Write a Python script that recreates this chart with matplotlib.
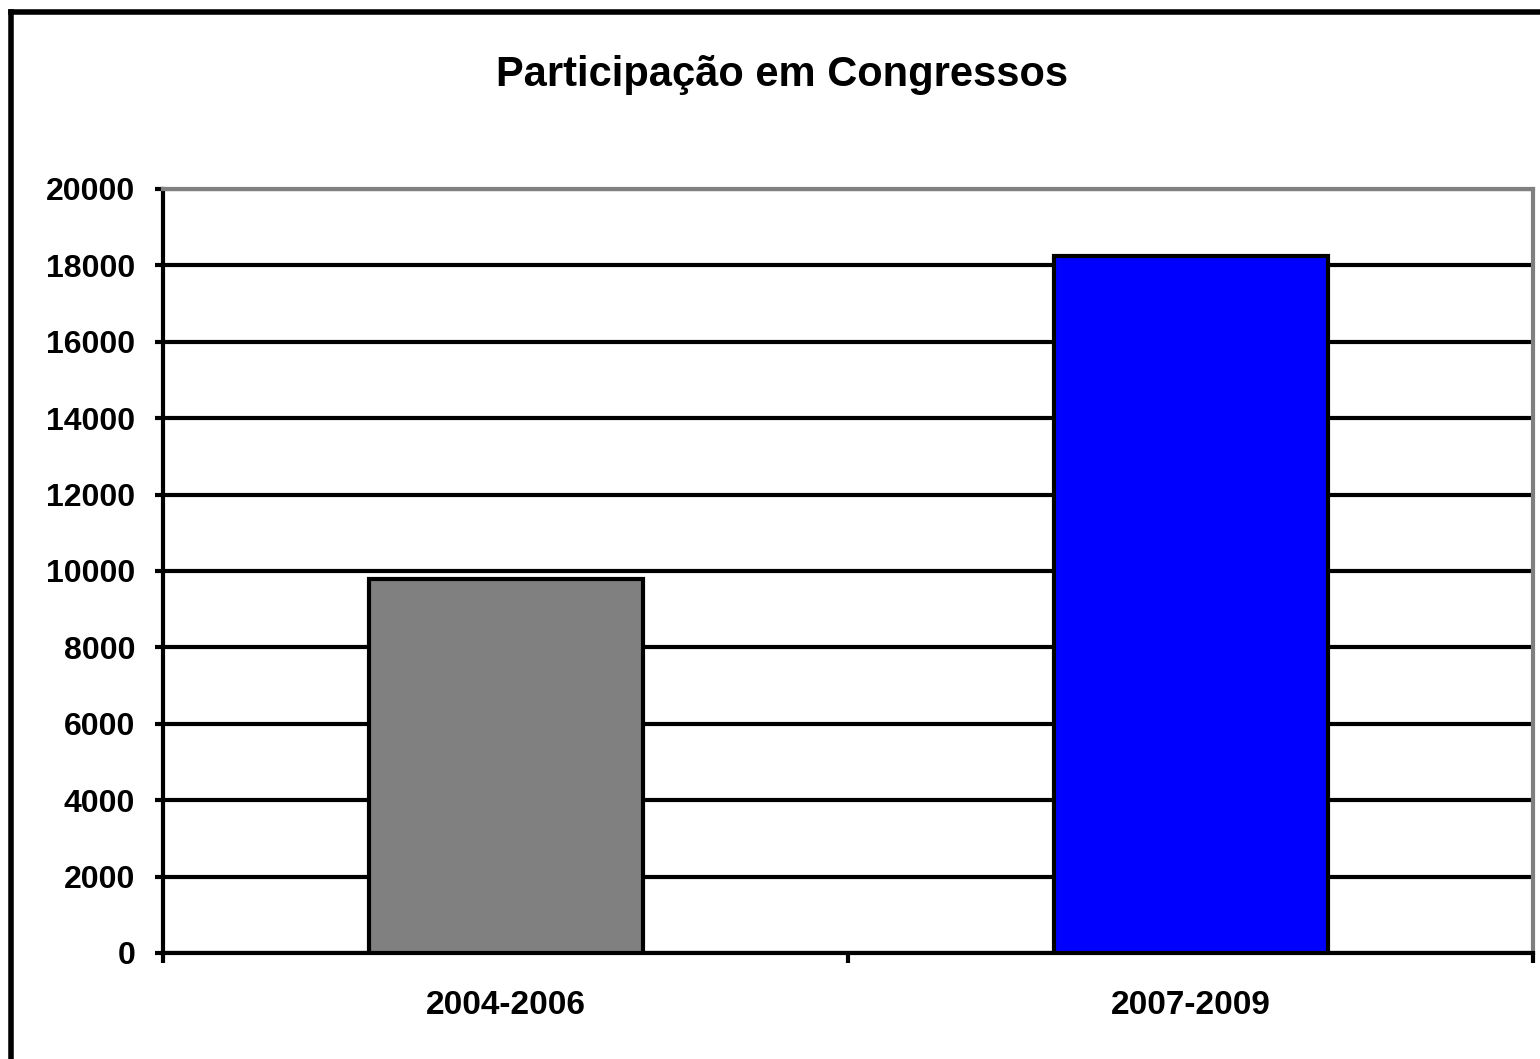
import matplotlib
matplotlib.use('Agg')
import matplotlib.pyplot as plt
from matplotlib.lines import Line2D

# Dados
periodos = ['2004-2006', '2007-2009']
valores = [9800, 18250]
cores = ['#808080', '#0000FF']
y_ticks = [0, 2000, 4000, 6000, 8000, 10000, 12000, 14000, 16000, 18000, 20000]

plt.rcParams['font.family'] = 'Liberation Sans'
plt.rcParams['font.weight'] = 'bold'

fig = plt.figure(figsize=(15.4, 10.59), dpi=100)
ax = fig.add_axes([163 / 1540, 1 - 953 / 1059, 1370 / 1540, 764 / 1059])

x = range(len(periodos))
ax.bar(x, valores, width=0.4, color=cores, edgecolor='black', linewidth=3, zorder=3)

ax.set_xlim(-0.5, 1.5)
ax.set_ylim(0, 20000)
ax.set_yticks(y_ticks)
ax.set_yticklabels([str(v) for v in y_ticks], fontsize=23, fontweight='bold')
ax.yaxis.grid(True, color='black', linewidth=3, zorder=1)
ax.set_axisbelow(True)

# ticks do eixo x nas fronteiras das categorias, rótulos no centro
ax.set_xticks([-0.5, 0.5, 1.5])
ax.set_xticklabels([])
ax.set_xticks([0, 1], minor=True)
ax.set_xticklabels(periodos, minor=True, fontsize=24, fontweight='bold')
ax.tick_params(axis='x', which='minor', length=0, pad=27)
ax.tick_params(axis='x', which='major', length=7, width=3, direction='out')
ax.tick_params(axis='y', length=6, width=3, direction='out', pad=14)

for s in ['left', 'bottom']:
    ax.spines[s].set_color('black')
    ax.spines[s].set_linewidth(3)
for s in ['top', 'right']:
    ax.spines[s].set_color('#808080')
    ax.spines[s].set_linewidth(3)

fig.text(0.508, 0.929, 'Participação em Congressos', ha='center', va='center',
         fontsize=30, fontweight='bold')

# moldura externa (cortada à direita e em baixo)
fig.add_artist(Line2D([11 / 1540, 1.0], [1 - 12 / 1059, 1 - 12 / 1059], color='black', linewidth=4))
fig.add_artist(Line2D([11 / 1540, 11 / 1540], [0.0, 1 - 12 / 1059], color='black', linewidth=4))

fig.savefig('out.png', dpi=100)
